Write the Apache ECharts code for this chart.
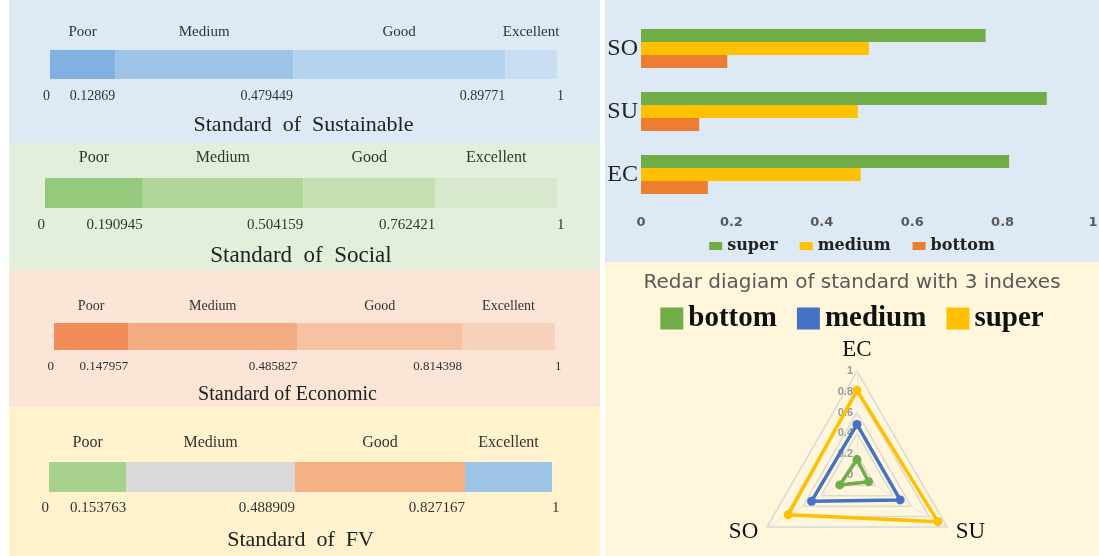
<!DOCTYPE html>
<html>
<head>
<meta charset="utf-8">
<script src="https://cdn.jsdelivr.net/npm/echarts@6/dist/echarts.min.js"></script>
<style>
  body { margin: 0; background: #ffffff; }
  .panel { position: absolute; }
</style>
</head>
<body>
<div id="sustainable" class="panel" style="left:9px;top:0;width:591px;height:143px;background:#dde9f5"></div>
<div id="social" class="panel" style="left:9px;top:143px;width:591px;height:127px;background:#e2efda"></div>
<div id="economic" class="panel" style="left:9px;top:270px;width:591px;height:137px;background:#fce4d6"></div>
<div id="fv" class="panel" style="left:9px;top:407px;width:591px;height:149px;background:#fff2cc"></div>
<div id="bars" class="panel" style="left:605px;top:0;width:494px;height:262px;background:#dde9f5"></div>
<div id="radar" class="panel" style="left:605px;top:262px;width:494px;height:294px;background:#fff6dc"></div>
<script>
const SERIF = '"Liberation Serif", "Times New Roman", serif';

// grade names and upper bounds of each grade
const levelNames = ['Poor', 'Medium', 'Good', 'Excellent'];
const sustainableCuts = [0.12869, 0.479449, 0.89771, 1];
const socialCuts = [0.190945, 0.504159, 0.762421, 1];
const economicCuts = [0.147957, 0.485827, 0.814398, 1];
const fvCuts = [0.153763, 0.488909, 0.827167, 1];

// the three indexes (bar chart order, bottom to top)
const indexNames = ['EC', 'SU', 'SO'];
const superVals = [0.814398, 0.89771, 0.762421];
const mediumVals = [0.485827, 0.479449, 0.504159];
const bottomVals = [0.147957, 0.12869, 0.190945];

// radar axes go EC (top), SO (left), SU (right)
const radarOrder = ['EC', 'SO', 'SU'];

// one standard strip
function standardChart(domId, title, cuts, colors, cfg) {
  const chart = echarts.init(document.getElementById(domId));
  let prev = 0;
  const series = levelNames.map((name, i) => {
    const seg = cuts[i] - prev;
    prev = cuts[i];
    return {
      name: name,
      type: 'bar',
      stack: 'level',
      barWidth: cfg.barH,
      itemStyle: { color: colors[i] },
      label: {
        show: true,
        position: 'top',
        distance: cfg.labelGap,
        formatter: '{a}',
        fontFamily: SERIF,
        fontSize: cfg.labelSize,
        color: '#333'
      },
      data: [seg]
    };
  });
  chart.setOption({
    animation: false,
    grid: { left: cfg.left, width: cfg.width, top: cfg.top, height: cfg.barH, outerBoundsMode: 'none' },
    xAxis: {
      type: 'value',
      min: 0,
      max: 1,
      axisLine: { show: false },
      axisTick: { show: false },
      splitLine: { show: false },
      axisLabel: {
        customValues: [0].concat(cuts),
        formatter: v => String(v),
        align: 'right',
        alignMinLabel: 'right',
        alignMaxLabel: 'left',
        margin: cfg.valueGap,
        fontFamily: SERIF,
        fontSize: cfg.valueSize,
        color: '#333'
      },
      name: title,
      nameLocation: 'middle',
      nameGap: cfg.nameGap,
      nameTextStyle: {
        fontFamily: SERIF,
        fontSize: cfg.titleSize,
        color: '#222',
        padding: cfg.titlePad || 0
      }
    },
    yAxis: { type: 'category', data: [''], show: false },
    series: series
  });
  return chart;
}

standardChart('sustainable', 'Standard  of  Sustainable', sustainableCuts,
  ['#80b1e0', '#9dc3e6', '#b4d3ef', '#c9def3'],
  { left: 41, width: 507, top: 50, barH: 29, labelGap: 10, labelSize: 15, valueGap: 10, valueSize: 14, nameGap: 35, titleSize: 22 });

standardChart('social', 'Standard  of  Social', socialCuts,
  ['#95c97c', '#afd598', '#c5e0b3', '#d7e8cc'],
  { left: 36, width: 512, top: 35, barH: 30, labelGap: 12, labelSize: 16, valueGap: 10, valueSize: 15, nameGap: 36, titleSize: 23 });

standardChart('economic', 'Standard of Economic', economicCuts,
  ['#f08d58', '#f3ab82', '#f6c2a2', '#f8d1bb'],
  { left: 45, width: 501, top: 53, barH: 27, labelGap: 10, labelSize: 14, valueGap: 10, valueSize: 13, nameGap: 35, titleSize: 20, titlePad: [0, 34, 0, 0] });

standardChart('fv', 'Standard  of  FV', fvCuts,
  ['#a9d18e', '#d9d9d9', '#f4b183', '#9dc3e6'],
  { left: 40, width: 503, top: 55, barH: 30, labelGap: 11, labelSize: 16, valueGap: 9, valueSize: 15, nameGap: 37, titleSize: 22 });

// horizontal grouped bars
const barChart = echarts.init(document.getElementById('bars'));
function barSeries(name, color, vals) {
  return { name: name, type: 'bar', barWidth: 13, barGap: 0, itemStyle: { color: color }, data: vals };
}
barChart.setOption({
  animation: false,
  grid: { left: 36, right: 6, top: 17, bottom: 56, outerBoundsMode: 'none' },
  legend: {
    bottom: 3,
    icon: 'rect',
    itemWidth: 13,
    itemHeight: 8,
    itemGap: 22,
    textStyle: { fontFamily: '"DejaVu Serif", serif', fontWeight: 'bold', fontSize: 16, color: '#222' }
  },
  xAxis: {
    type: 'value',
    min: 0,
    max: 1,
    interval: 0.2,
    splitLine: { show: false },
    axisLine: { show: false },
    axisTick: { show: false },
    axisLabel: { margin: 10, fontFamily: 'DejaVu Sans', fontWeight: 'bold', fontSize: 13, color: '#595959' }
  },
  yAxis: {
    type: 'category',
    data: indexNames,
    axisLine: { show: false },
    axisTick: { show: false },
    axisLabel: { margin: 3, fontFamily: SERIF, fontSize: 24, color: '#222' }
  },
  series: [
    barSeries('super', '#70ad47', superVals),
    barSeries('medium', '#ffc000', mediumVals),
    barSeries('bottom', '#ed7d31', bottomVals)
  ]
});

// radar of the three grades
function pick(vals) {
  return radarOrder.map(k => vals[indexNames.indexOf(k)]);
}
const radarChart = echarts.init(document.getElementById('radar'));
radarChart.setOption({
  animation: false,
  title: {
    text: 'Redar diagiam of standard with 3 indexes',
    left: 'center',
    top: 6,
    textStyle: { fontFamily: '"DejaVu Sans", sans-serif', fontWeight: 'normal', fontSize: 20, color: '#595959' }
  },
  legend: {
    top: 37,
    icon: 'rect',
    itemWidth: 23,
    itemHeight: 22,
    itemGap: 20,
    textStyle: { fontFamily: SERIF, fontWeight: 'bold', fontSize: 29, color: '#111' }
  },
  radar: {
    center: [252, 213],
    radius: 104,
    splitNumber: 5,
    shape: 'polygon',
    nameGap: 10,
    axisName: { fontFamily: SERIF, fontSize: 23, color: '#111' },
    splitLine: { lineStyle: { color: '#d9d9d9', width: 1.5 } },
    splitArea: { show: false },
    axisLine: { lineStyle: { color: '#e6e6e6' } },
    axisLabel: { show: false },
    indicator: [
      { name: 'EC', min: 0, max: 1, axisLabel: { show: true, fontSize: 11, fontWeight: 'bold', color: '#999', margin: 4 } },
      { name: 'SO', min: 0, max: 1 },
      { name: 'SU', min: 0, max: 1 }
    ]
  },
  series: [{
    type: 'radar',
    symbol: 'circle',
    symbolSize: 9,
    lineStyle: { width: 3.5 },
    data: [
      { name: 'bottom', value: pick(bottomVals), itemStyle: { color: '#70ad47' }, lineStyle: { color: '#70ad47' } },
      { name: 'medium', value: pick(mediumVals), itemStyle: { color: '#4472c4' }, lineStyle: { color: '#4472c4' } },
      { name: 'super', value: pick(superVals), itemStyle: { color: '#ffc000' }, lineStyle: { color: '#ffc000' } }
    ]
  }]
});
</script>
</body>
</html>
